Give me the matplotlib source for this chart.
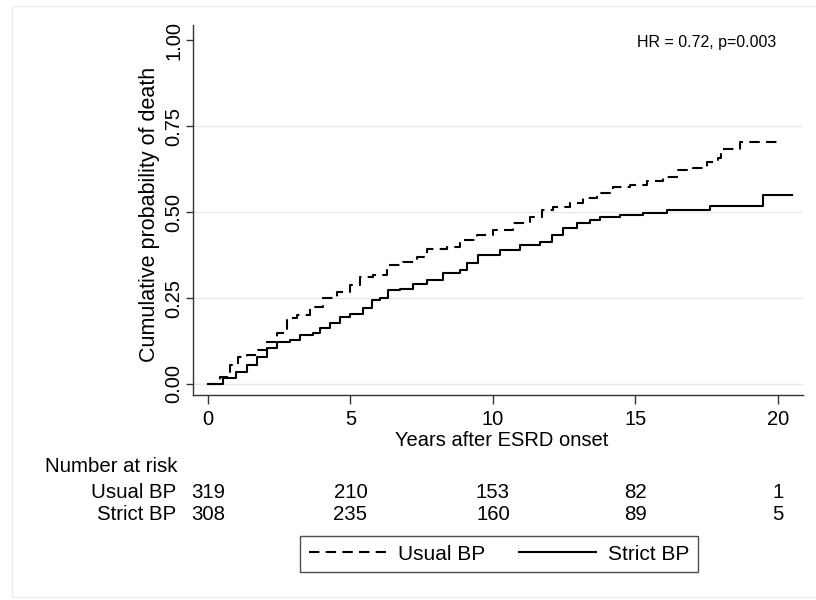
import matplotlib
matplotlib.use('Agg')
import matplotlib.pyplot as plt
from matplotlib import transforms
from matplotlib.patches import Rectangle

plt.rcParams['font.family'] = ['Liberation Sans', 'DejaVu Sans']

# Kaplan-Meier curves (years, cumulative prob. of death)
usual_t = [0, 0.42, 0.77, 1.06, 1.36, 1.71, 2.06, 2.41, 2.76, 3.11,
           3.58, 4.05, 4.51, 4.98, 5.33, 5.8, 6.27, 6.85, 7.32, 7.67,
           8.37, 8.84, 9.43, 10.01, 10.71, 11.3, 11.71, 12.12, 12.7, 13.17,
           13.64, 14.22, 14.81, 15.39, 15.98, 16.45, 17.03, 17.5, 17.91, 18.02,
           18.67, 20.0]
usual_p = [0, 0.021, 0.055, 0.079, 0.084, 0.099, 0.123, 0.147, 0.191, 0.2,
           0.225, 0.249, 0.268, 0.288, 0.312, 0.317, 0.346, 0.356, 0.37, 0.394,
           0.399, 0.419, 0.433, 0.448, 0.467, 0.486, 0.506, 0.515, 0.527, 0.54,
           0.554, 0.574, 0.578, 0.591, 0.603, 0.622, 0.627, 0.646, 0.656, 0.682,
           0.704, 0.704]

strict_t = [0, 0.54, 1.0, 1.36, 1.71, 2.06, 2.41, 2.88, 3.23, 3.7,
            3.93, 4.28, 4.63, 4.98, 5.45, 5.74, 6.04, 6.33, 6.74, 7.2,
            7.67, 8.25, 8.84, 9.08, 9.49, 10.25, 10.95, 11.65, 12.06, 12.47,
            12.94, 13.4, 13.75, 14.46, 15.27, 16.1, 17.61, 19.48, 20.48]
strict_p = [0, 0.016, 0.036, 0.055, 0.079, 0.104, 0.123, 0.128, 0.142, 0.147,
            0.164, 0.176, 0.194, 0.205, 0.22, 0.244, 0.249, 0.273, 0.275, 0.292,
            0.302, 0.322, 0.331, 0.351, 0.375, 0.39, 0.404, 0.414, 0.433, 0.453,
            0.467, 0.477, 0.486, 0.491, 0.498, 0.506, 0.517, 0.549, 0.549]

# number at risk table
risk_times = [0, 5, 10, 15, 20]
risk_usual = [319, 210, 153, 82, 1]
risk_strict = [308, 235, 160, 89, 5]

y_ticks = [0, 0.25, 0.5, 0.75, 1.0]
y_ticklabels = ['0.00', '0.25', '0.50', '0.75', '1.00']

fs = 14.7   # main text size

fig = plt.figure(figsize=(8.16, 6.0), dpi=100)
ax = fig.add_axes([193/816, 205/600, 610/816, 370/600])

# light frame round the graph region (stata style)
fig.patches.append(Rectangle((12/816, 3/600), 1.0, 591/600, transform=fig.transFigure,
                             fill=False, edgecolor='#ececec', lw=1.0, zorder=0))

ax.plot(usual_t, usual_p, drawstyle='steps-post', color='black', lw=1.5,
        dashes=(5, 3), label='Usual BP')
ax.plot(strict_t, strict_p, drawstyle='steps-post', color='black', lw=1.5,
        label='Strict BP')

for g in y_ticks[:-1]:
    ax.axhline(g, color='#e9e9e9', lw=1.0, zorder=0)

ax.set_xlim(-0.526, 20.88)
ax.set_ylim(-0.032, 1.044)
ax.set_xticks(risk_times)
ax.set_yticks(y_ticks)
ax.set_yticklabels(y_ticklabels, rotation=90, va='center')
ax.tick_params(axis='x', length=6.5, width=1, color='#333333', pad=4.5, labelsize=14.5)
ax.tick_params(axis='y', length=5, width=1, color='#333333', pad=2, labelsize=14.5)

for s in ['top', 'right']:
    ax.spines[s].set_visible(False)
for s in ['left', 'bottom']:
    ax.spines[s].set_color('#333333')
    ax.spines[s].set_linewidth(1.0)

fig.text(149/816, 1 - 214/600, 'Cumulative probability of death', rotation=90,
         ha='center', va='center', fontsize=15.5)
fig.text(502/816, 1 - 440/600, 'Years after ESRD onset', ha='center', va='center',
         fontsize=14.5)
fig.text(776/816, 1 - 42/600, 'HR = 0.72, p=0.003', ha='right', va='center', fontsize=11.5)

# risk table under the axis
trans = transforms.blended_transform_factory(ax.transData, fig.transFigure)
fig.text(45/816, 1 - 467/600, 'Number at risk', ha='left', va='center', fontsize=fs)
fig.text(176/816, 1 - 492/600, 'Usual BP', ha='right', va='center', fontsize=fs)
fig.text(176/816, 1 - 515/600, 'Strict BP', ha='right', va='center', fontsize=fs)
for t, nu, ns in zip(risk_times, risk_usual, risk_strict):
    ax.text(t, 1 - 492/600, str(nu), transform=trans, ha='center', va='center', fontsize=fs)
    ax.text(t, 1 - 515/600, str(ns), transform=trans, ha='center', va='center', fontsize=fs)

leg = fig.legend(loc='center', bbox_to_anchor=(499/816, 1 - 554/600), ncol=2,
                 fontsize=15, frameon=True, fancybox=False, handlelength=3.7,
                 handletextpad=0.57, columnspacing=1.63, borderpad=0.4,
                 borderaxespad=0)
leg.get_frame().set_edgecolor('#222222')
leg.get_frame().set_linewidth(1.0)

fig.savefig('out.png', dpi=100)
